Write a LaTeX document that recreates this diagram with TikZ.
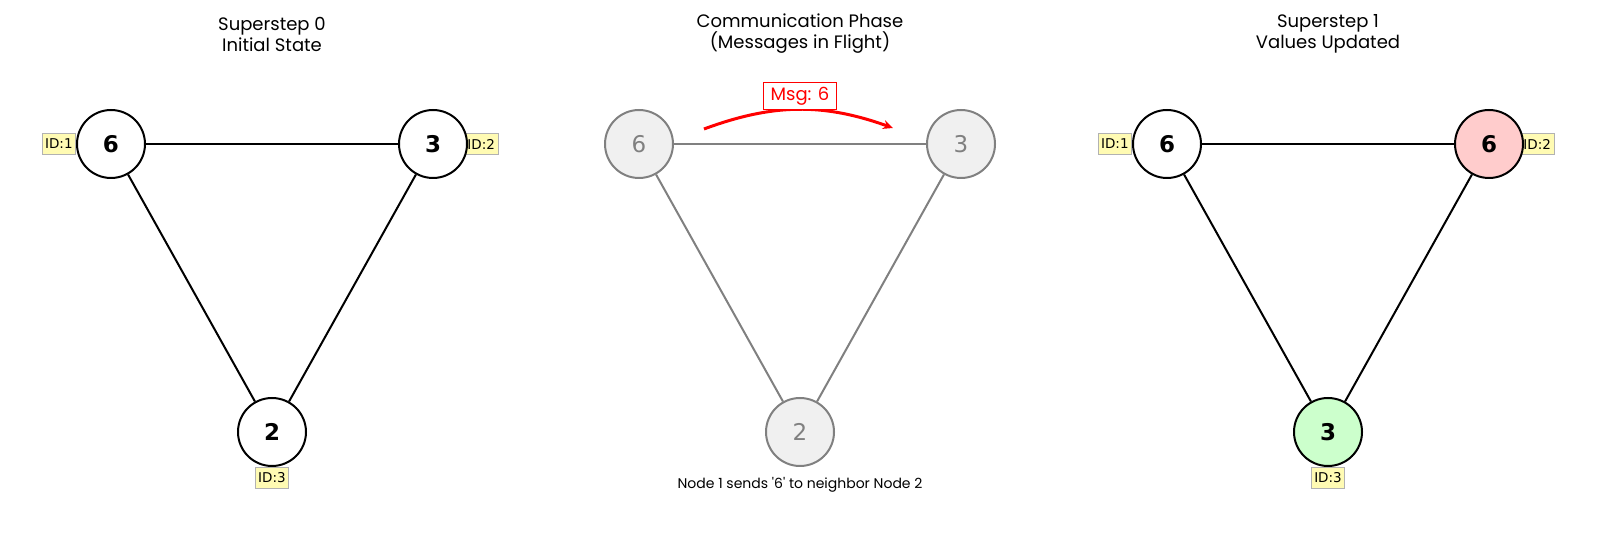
\documentclass[tikz,border=0pt]{standalone}
\usepackage{fontspec}
\setmainfont{Poppins}
\newfontfamily\numfont{DejaVu Sans}
\usetikzlibrary{arrows.meta,positioning,backgrounds}

\begin{document}
\begin{tikzpicture}[x=0.5pt, y=-0.5pt,
vertex/.style={circle, draw, line width=1pt, fill=white, minimum size=34pt, inner sep=0pt, font=\numfont\bfseries\fontsize{11.5}{12}\selectfont},
vertexoff/.style={vertex, draw=gray, fill=black!6, text=gray, font=\numfont\fontsize{11.5}{12}\selectfont},
link/.style={line width=1pt},
linkoff/.style={line width=1pt, gray},
idtag/.style={draw=black!30, fill=yellow!30, inner xsep=1.5pt, inner ysep=0pt, minimum height=10.5pt, font=\numfont\fontsize{6.75}{7}\selectfont},
titulo/.style={align=center, font=\fontsize{9}{10.5}\selectfont},
msgseta/.style={-{Stealth[length=5pt,width=4.5pt]}, red, line width=1.5pt},
node distance=0pt
]
\useasboundingbox (0,0) rectangle (1600,533);

% Superstep 0
\node[titulo] (tit0) at (272,34) {Superstep 0\\Initial State};
\node[vertex] (s0v1) at (111,144) {6};
\node[vertex] (s0v2) at (433,144) {3};
\node[vertex] (s0v3) at (272,432) {2};
\draw[link] (s0v1) -- (s0v2);
\draw[link] (s0v1) -- (s0v3);
\draw[link] (s0v2) -- (s0v3);

% Communication phase
\node[titulo] (titc) at (800,34) {Communication Phase\\(Messages in Flight)};
\node[vertexoff] (cv1) at (639,144) {6};
\node[vertexoff] (cv2) at (961,144) {3};
\node[vertexoff] (cv3) at (800,432) {2};
\draw[linkoff] (cv1) -- (cv2);
\draw[linkoff] (cv1) -- (cv3);
\draw[linkoff] (cv2) -- (cv3);
\coordinate (msgde) at (704,129);
\coordinate (msgpara) at (893,128);
\draw[msgseta] (msgde) to[bend left=20] (msgpara);
\node[draw=red, line width=0.5pt, fill=white, text=red, inner xsep=3.5pt, inner ysep=0pt, minimum height=13.5pt, font=\fontsize{9}{10}\selectfont] (msg) at (800,96) {Msg: 6};
\node[font=\fontsize{7}{8}\selectfont] (legenda) at (800,485) {Node 1 sends \textquotesingle6\textquotesingle{} to neighbor Node 2};

% Superstep 1
\node[titulo] (tit1) at (1328,34) {Superstep 1\\Values Updated};
\node[vertex] (s1v1) at (1167,144) {6};
\node[vertex, fill=red!20] (s1v2) at (1489,144) {6};
\node[vertex, fill=green!20] (s1v3) at (1328,432) {3};
\draw[link] (s1v1) -- (s1v2);
\draw[link] (s1v1) -- (s1v3);
\draw[link] (s1v2) -- (s1v3);

% ID tags behind the circles
\begin{scope}[on background layer]
\node[idtag, left=of s0v1] (id01) {ID:1};
\node[idtag, right=-2pt of s0v2] (id02) {ID:2};
\node[idtag, below=of s0v3] (id03) {ID:3};
\node[idtag, left=of s1v1] (id11) {ID:1};
\node[idtag, right=-2pt of s1v2] (id12) {ID:2};
\node[idtag, below=of s1v3] (id13) {ID:3};
\end{scope}
\end{tikzpicture}
\end{document}
